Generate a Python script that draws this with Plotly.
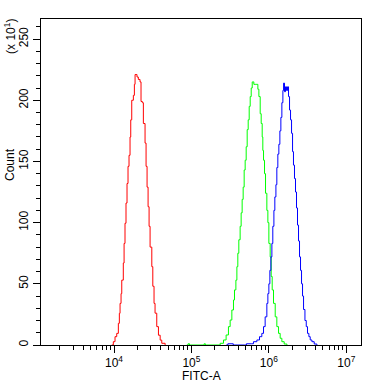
import plotly.graph_objects as go

# log10(FITC-A) positions and counts
red_log = [3.971, 3.991, 4.013, 4.035, 4.056, 4.069, 4.078, 4.091, 4.100, 4.120, 4.130, 4.142,
           4.155, 4.168, 4.181, 4.194, 4.207, 4.216, 4.229, 4.250, 4.263, 4.272, 4.285, 4.297,
           4.314, 4.336, 4.349, 4.366, 4.379, 4.401, 4.414, 4.427, 4.440, 4.453, 4.466, 4.488,
           4.501, 4.517, 4.530, 4.552, 4.574, 4.596, 4.617, 4.660]
red_count = [0, 2.7, 6.8, 9.5, 17.7, 25.9, 34, 42, 53, 67, 83, 99.5,
             116, 132, 146, 155, 170, 184, 200, 204, 213, 221, 221, 219,
             217, 215, 199, 198, 181, 165, 146, 129, 113, 97, 80, 64,
             48, 34, 26, 15, 8, 4, 1.4, 0]

green_log = [4.940, 4.957, 4.975, 5.150, 5.164, 5.180, 5.371, 5.414, 5.448, 5.478, 5.500, 5.522,
             5.543, 5.556, 5.574, 5.587, 5.599, 5.612, 5.629, 5.642, 5.655, 5.668, 5.681,
             5.694, 5.707, 5.720, 5.733, 5.746, 5.759, 5.772, 5.785, 5.793, 5.806, 5.823,
             5.845, 5.858, 5.871, 5.888, 5.901, 5.914, 5.922, 5.931, 5.944, 5.957, 5.974,
             5.987, 6.000, 6.017, 6.030, 6.043, 6.060, 6.082, 6.103, 6.125, 6.146, 6.168,
             6.198, 6.233]
green_count = [0, 1, 0, 0, 1, 0, 1.4, 4.1, 8.2, 15, 20.4, 28.6,
               36.8, 45, 53, 64, 75, 86, 97, 108, 119, 129, 143,
               151, 162, 176, 184, 195, 203, 210, 215, 215, 213, 213,
               213, 209, 203, 189, 181, 170, 159, 151, 140, 124, 110,
               100, 83, 72, 56, 45, 34, 23, 15, 9.5, 5.5, 2.7,
               0.8, 0]

blue_log = [5.450, 5.470, 5.540, 5.690, 5.710, 5.780, 5.801, 5.845, 5.879, 5.909, 5.931, 5.952,
            5.974, 5.987, 6.000, 6.013, 6.026, 6.039, 6.051, 6.065, 6.077, 6.091, 6.103,
            6.116, 6.129, 6.142, 6.155, 6.168, 6.181, 6.190, 6.202, 6.215, 6.228, 6.241,
            6.254, 6.267, 6.280, 6.293, 6.306, 6.318, 6.331, 6.344, 6.357, 6.370, 6.383,
            6.396, 6.409, 6.422, 6.435, 6.448, 6.466, 6.483, 6.499, 6.517, 6.534, 6.556,
            6.586, 6.620]
blue_count = [0, 1, 0, 0, 1, 1, 2.7, 4.1, 6.8, 9.5, 15, 23,
              34, 42, 50, 61, 72, 83, 97, 110, 121, 131, 145,
              156, 164, 175, 186, 198, 208, 214, 207, 211, 208, 211,
              203, 192, 184, 173, 158, 147, 136, 125, 112, 98, 85,
              72, 61, 50, 40, 29, 20, 15, 9.5, 6.8, 4.1, 2.7,
              0.8, 0]

x_decades = [4, 5, 6, 7]
y_major = [0, 50, 100, 150, 200, 250]

FONT = "Liberation Sans, Arial, sans-serif"

fig = go.Figure()
for lg, cnt, col in [(red_log, red_count, "#ff0000"),
                     (green_log, green_count, "#00ff00"),
                     (blue_log, blue_count, "#0000ff")]:
    fig.add_trace(go.Scatter(x=[10 ** v for v in lg], y=cnt, mode="lines",
                             line=dict(color=col, width=1, shape="hv"),
                             showlegend=False, hoverinfo="skip"))

minor_vals = [m * 10 ** d for d in range(3, 8) for m in range(2, 10)]

fig.update_xaxes(type="log", range=[3.057, 7.19], automargin=False,
                 tickvals=[10 ** d for d in x_decades],
                 ticktext=[f"10<sup>{d}</sup>" for d in x_decades],
                 ticks="outside", ticklen=7, tickwidth=1, tickcolor="black",
                 minor=dict(tickvals=minor_vals, ticks="outside", ticklen=4,
                            tickwidth=1, tickcolor="black"),
                 showline=True, linecolor="black", linewidth=1, mirror=True,
                 showgrid=False, zeroline=False,
                 tickfont=dict(family=FONT, size=12, color="black"))
fig.update_yaxes(range=[0, 266.4], tickvals=y_major, automargin=False,
                 ticktext=[str(v) for v in y_major], tickangle=-90,
                 ticks="outside", ticklen=7, tickwidth=1, tickcolor="black",
                 minor=dict(dtick=10, ticks="outside", ticklen=4, tickwidth=1,
                            tickcolor="black"),
                 showline=True, linecolor="black", linewidth=1, mirror=True,
                 showgrid=False, zeroline=False,
                 tickfont=dict(family=FONT, size=12, color="black"))

fig.add_annotation(text="FITC-A", xref="paper", yref="paper", x=0.5, y=-0.095,
                   showarrow=False, xanchor="center", yanchor="middle",
                   font=dict(family=FONT, size=12, color="black"))
fig.add_annotation(text="Count", xref="paper", yref="paper", x=-0.097, y=0.555,
                   textangle=-90, showarrow=False, xanchor="center", yanchor="middle",
                   font=dict(family=FONT, size=12, color="black"))
fig.add_annotation(text="(x 10<sup>1</sup>)", xref="paper", yref="paper", x=-0.097, y=0.948,
                   textangle=-90, showarrow=False, xanchor="center", yanchor="middle",
                   font=dict(family=FONT, size=12, color="black"))

fig.update_layout(width=382, height=384, paper_bgcolor="white", plot_bgcolor="white",
                  margin=dict(l=41, r=21, t=19, b=39))
fig.write_html("out.html", config={"displayModeBar": False},
               post_script="document.body.style.margin='0';document.body.style.padding='0';")
